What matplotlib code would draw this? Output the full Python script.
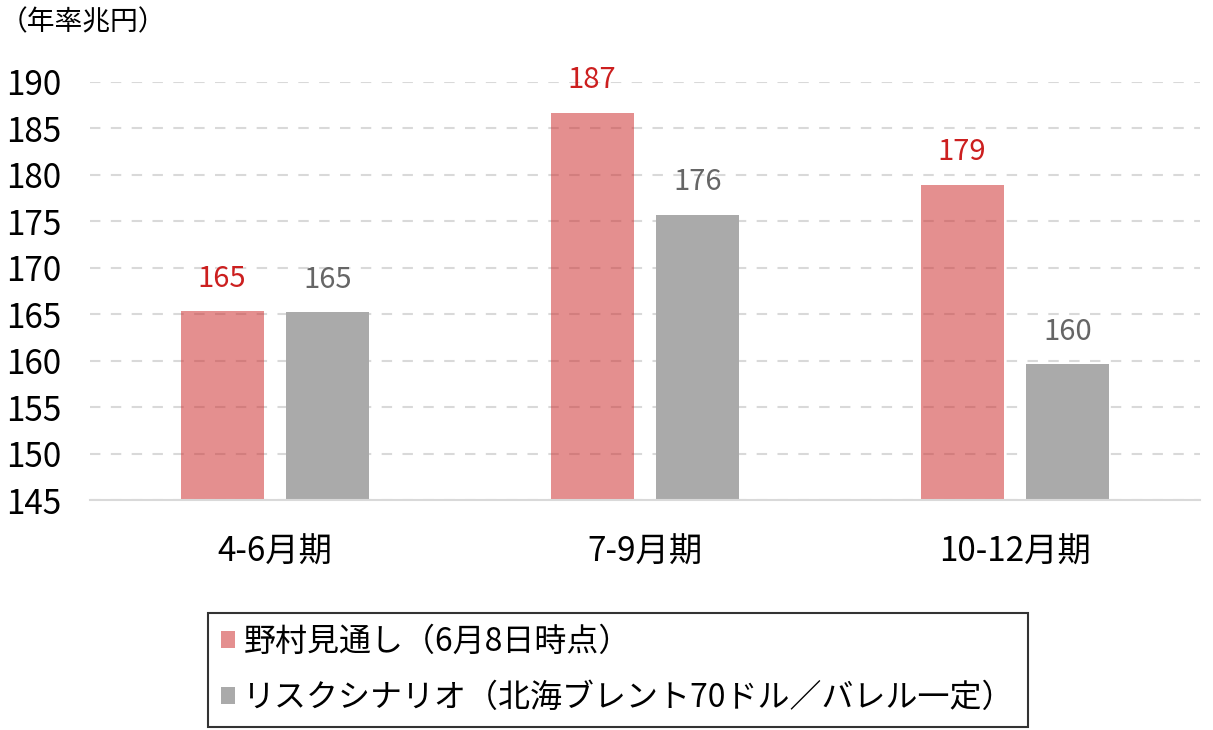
import matplotlib
matplotlib.use("Agg")
import matplotlib.pyplot as plt
import numpy as np
from matplotlib.patches import Patch

plt.rcParams['font.family'] = ['Noto Sans CJK JP', 'DejaVu Sans']

categories = ["4-6月期", "7-9月期", "10-12月期"]
nomura = [165.3, 186.7, 178.9]
risk = [165.2, 175.7, 159.6]
nomura_labels = ["165", "187", "179"]
risk_labels = ["165", "176", "160"]
series_names = ["野村見通し（6月8日時点）", "リスクシナリオ（北海ブレント70ドル／バレル一定）"]
yticks = [145, 150, 155, 160, 165, 170, 175, 180, 185, 190]

fig = plt.figure(figsize=(12.13, 7.30), dpi=100)
ax = fig.add_axes([90/1213, 1-500/730, 1110/1213, (500-82)/730])

x = np.arange(len(categories))
w = 0.224
off = 0.143
ax.bar(x - off, [v - 145 for v in nomura], w, bottom=145, color='#ce3333', alpha=0.55, zorder=2)
ax.bar(x + off, [v - 145 for v in risk], w, bottom=145, color='#aaaaaa', zorder=2)

for xi, v, t in zip(x, nomura, nomura_labels):
    ax.text(xi - off, v + 1.9, t, ha='center', va='bottom', color='#cc1f1f', fontsize=21, clip_on=False)
for xi, v, t in zip(x, risk, risk_labels):
    ax.text(xi + off, v + 1.9, t, ha='center', va='bottom', color='#666666', fontsize=21, clip_on=False)

ax.set_xlim(-0.5, 2.5)
ax.set_ylim(145, 190)
ax.set_yticks(yticks)
ax.set_yticklabels([str(t) for t in yticks], fontsize=24)
ax.set_xticks(x)
ax.set_xticklabels(categories, fontsize=24)
ax.tick_params(axis='both', length=0)
ax.tick_params(axis='x', pad=25)
for lab in ax.get_yticklabels():
    lab.set_horizontalalignment('left')
    lab.set_x(-84/1110)
ax.yaxis.set_tick_params(pad=0)

ax.grid(axis='y', color='#d9d9d9', linestyle=(0, (5, 5)), linewidth=1.5, zorder=1)
ax.set_axisbelow(True)
for s in ['left', 'right', 'top']:
    ax.spines[s].set_visible(False)
ax.spines['bottom'].set_color('#d9d9d9')
ax.spines['bottom'].set_linewidth(1.5)

fig.text(0/1213, 1-22/730, "（年率兆円）", fontsize=20, ha='left', va='center')

handles = [Patch(facecolor='#ce3333', alpha=0.55), Patch(facecolor='#aaaaaa')]
leg = fig.legend(handles, series_names, loc='center', bbox_to_anchor=(618/1213, 1-670/730),
                 fontsize=23, frameon=True, fancybox=False, edgecolor='black',
                 handlelength=0.45, handleheight=0.45, handletextpad=0.25, labelspacing=0.75,
                 borderpad=0.4, borderaxespad=0)
leg.get_frame().set_linewidth(1.5)

fig.savefig("out.png", dpi=100)
